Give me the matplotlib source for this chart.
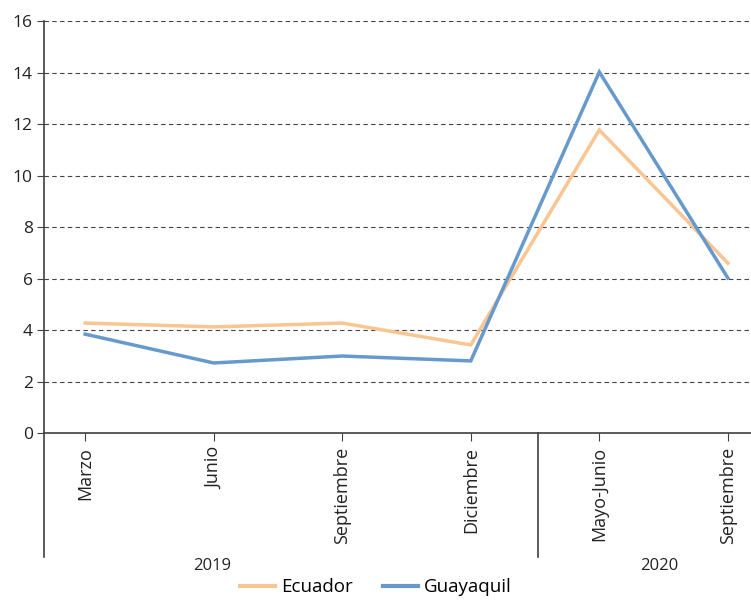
import numpy as np
import matplotlib.pyplot as plt
from matplotlib.lines import Line2D

plt.rcParams['font.family'] = ['Open Sans', 'DejaVu Sans']

categorias = ["Marzo", "Junio", "Septiembre", "Diciembre", "Mayo-Junio", "Septiembre"]
anios = ["2019", "2020"]
ecuador = [4.27, 4.12, 4.27, 3.42, 11.77, 6.6]
guayaquil = [3.84, 2.72, 2.99, 2.8, 14.02, 6.02]

col_ec = "#F9C593"
col_gy = "#6699CC"
col_ax = "#404040"

fig = plt.figure(figsize=(7.51, 6.0), dpi=100)
ax = fig.add_axes([0.0586, 0.2783, 0.9414, 0.6867])

x = np.arange(len(categorias))
ax.plot(x, ecuador, color=col_ec, lw=2.5, solid_joinstyle="miter", zorder=3)
ax.plot(x, guayaquil, color=col_gy, lw=2.5, solid_joinstyle="miter", zorder=4)

ax.set_xlim(-0.32, 5.18)
ax.set_ylim(0, 16)
ax.set_yticks(range(0, 17, 2))
ax.set_xticks(x)
ax.set_xticklabels(categorias, rotation=90, fontsize=13, color="#222222")
ax.tick_params(axis="y", labelsize=12.5, colors="#222222", length=5, color=col_ax, pad=3)
ax.tick_params(axis="x", length=6, color=col_ax, pad=4)
ax.yaxis.grid(True, linestyle=(0, (4, 3)), color="#444444", lw=0.8)
ax.set_axisbelow(True)

for s in ["top", "right"]:
    ax.spines[s].set_visible(False)
for s in ["left", "bottom"]:
    ax.spines[s].set_color(col_ax)
    ax.spines[s].set_linewidth(1.2)

# separadores de grupo y etiquetas de año
trans = ax.get_xaxis_transform()
ax.plot([-0.32, -0.32], [0, -0.30], color=col_ax, lw=1.2, transform=trans, clip_on=False)
ax.plot([3.52, 3.52], [0, -0.30], color=col_ax, lw=1.2, transform=trans, clip_on=False)
ax.text(0.99, -0.322, anios[0], transform=trans, ha="center", va="center", fontsize=12, color="#222222")
ax.text(4.47, -0.322, anios[1], transform=trans, ha="center", va="center", fontsize=12, color="#222222")

handles = [Line2D([], [], color=col_ec, lw=3), Line2D([], [], color=col_gy, lw=3)]
fig.legend(handles, ["Ecuador", "Guayaquil"], loc="center", bbox_to_anchor=(0.5, 0.021),
           ncol=2, frameon=False, fontsize=13.5, handlelength=1.9, columnspacing=1.6,
           handletextpad=0.3, borderpad=0.1)

fig.savefig("out.png", dpi=100)
